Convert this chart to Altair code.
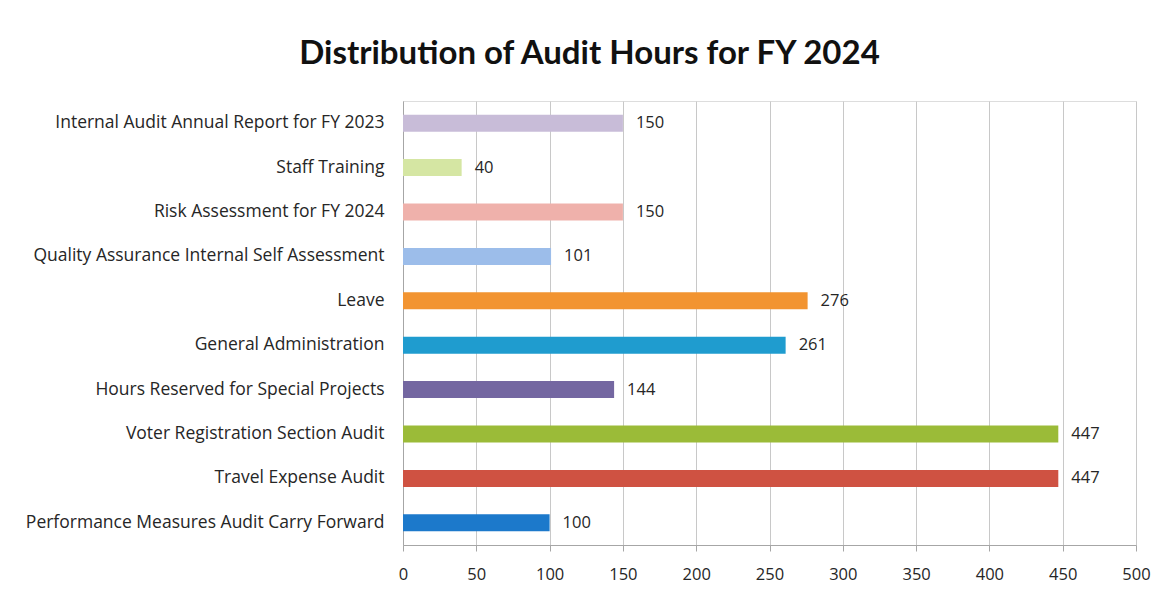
import altair as alt
import pandas as pd

categories = [
    "Internal Audit Annual Report for FY 2023",
    "Staff Training",
    "Risk Assessment for FY 2024",
    "Quality Assurance Internal Self Assessment",
    "Leave",
    "General Administration",
    "Hours Reserved for Special Projects",
    "Voter Registration Section Audit",
    "Travel Expense Audit",
    "Performance Measures Audit Carry Forward",
]
hours = [150, 40, 150, 101, 276, 261, 144, 447, 447, 100]
colors = ["#c8bcd8", "#d5e6a3", "#efb1ab", "#9cbdea", "#f29431",
          "#1f9ccf", "#7467a1", "#9bbb38", "#cf5242", "#1c79cb"]
x_ticks = [0, 50, 100, 150, 200, 250, 300, 350, 400, 450, 500]

df = pd.DataFrame({"category": categories, "hours": hours, "color": colors})

FONT = "Open Sans"
TFONT = "Lato"

y_enc = alt.Y("category:N", sort=categories,
              scale=alt.Scale(paddingInner=0.62, paddingOuter=0.31),
              axis=alt.Axis(title=None, labelFont=FONT, labelFontSize=17.5,
                            labelColor="#262626", labelPadding=19, ticks=False,
                            domainColor="#a6a6a6", labelLimit=500))
x_enc = alt.X("hours:Q", scale=alt.Scale(domain=[0, 500], nice=False),
              axis=alt.Axis(title=None, values=x_ticks, labelFont=FONT,
                            labelFontSize=16.5, labelColor="#262626",
                            labelPadding=15, tickSize=6, tickColor="#a6a6a6",
                            domainColor="#a6a6a6", gridColor="#c8c8c8",
                            grid=True, labelFlush=False))

bars = alt.Chart(df).mark_bar(size=17).encode(
    y=y_enc, x=x_enc,
    color=alt.Color("color:N", scale=None),
)
labels = alt.Chart(df).mark_text(align="left", baseline="middle", dx=13,
                                 font=FONT, fontSize=16.5, color="#262626").encode(
    y=alt.Y("category:N", sort=categories),
    x="hours:Q",
    text="hours:Q",
)

chart = alt.layer(bars, labels).properties(
    width=733, height=444,
    title=alt.TitleParams("Distribution of Audit Hours for FY 2024", font=TFONT,
                          fontSize=33, fontWeight="bold", color="#111111",
                          anchor="middle", frame="group", dx=-180, offset=30),
    autosize=alt.AutoSizeParams(type="none"),
    padding={"left": 403, "top": 101, "right": 24, "bottom": 52},
).configure_view(stroke=None).configure(background="white")

chart.save("out.html", embed_options={"renderer": "svg", "actions": False})
